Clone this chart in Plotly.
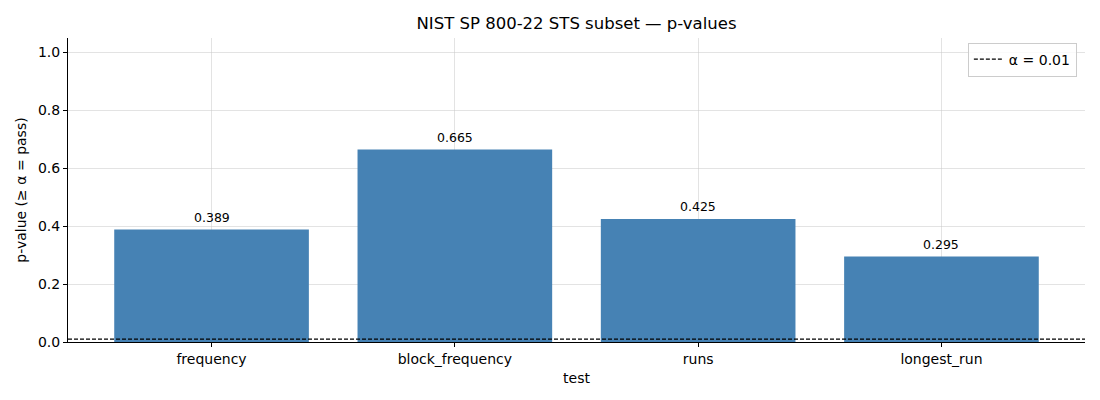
import plotly.graph_objects as go

# p-values per test
tests = ["frequency", "block_frequency", "runs", "longest_run"]
p_values = [0.389, 0.665, 0.425, 0.295]
alpha = 0.01
y_ticks = [0.0, 0.2, 0.4, 0.6, 0.8, 1.0]

FONT = "DejaVu Sans"
BAR_COLOR = "#4682b4"

fig = go.Figure()
fig.add_trace(go.Bar(
    x=tests,
    y=p_values,
    width=0.8,
    marker=dict(color=BAR_COLOR, line=dict(width=0)),
    showlegend=False,
    hoverinfo="x+y",
))

# value labels above each bar
for t, p in zip(tests, p_values):
    fig.add_annotation(
        x=t, y=p, text=f"{p:.3f}", showarrow=False,
        yshift=12, font=dict(family=FONT, size=12.5, color="black"),
    )

# significance threshold
fig.add_hline(
    y=alpha, line=dict(color="black", width=1.2, dash="4px,2px"),
    showlegend=True, name=f"α = {alpha}", layer="above",
)

axis_common = dict(
    showline=True, linecolor="black", linewidth=1,
    ticks="outside", ticklen=4, tickcolor="black",
    showgrid=True, gridcolor="rgba(200,200,200,0.5)", gridwidth=1,
    zeroline=False, tickfont=dict(family=FONT, size=14, color="black"),
    layer="above traces",
)

# the page body adds an 8px offset, margins account for it
fig.update_layout(
    width=1100, height=400,
    margin=dict(l=58, r=23, t=30, b=66),
    paper_bgcolor="white", plot_bgcolor="white",
    font=dict(family=FONT, color="black"),
    title=dict(text="NIST SP 800-22 STS subset — p-values", xref="paper", x=0.5,
               xanchor="center", yref="container", y=0.9775, yanchor="top",
               font=dict(family=FONT, size=16.5, color="black")),
    xaxis=dict(axis_common, range=[-0.59, 3.59],
               title=dict(text="test", font=dict(family=FONT, size=14), standoff=7)),
    yaxis=dict(axis_common, range=[0, 1.05], tickvals=y_ticks,
               ticktext=[f"{v:.1f}" for v in y_ticks],
               title=dict(text="p-value (≥ α = pass)", font=dict(family=FONT, size=14), standoff=8)),
    legend=dict(x=0.992, y=0.985, xanchor="right", yanchor="top",
                bgcolor="rgba(255,255,255,0.8)", bordercolor="#cccccc", borderwidth=1,
                font=dict(family=FONT, size=14)),
    bargap=0.2,
)

fig.write_html("out.html")
